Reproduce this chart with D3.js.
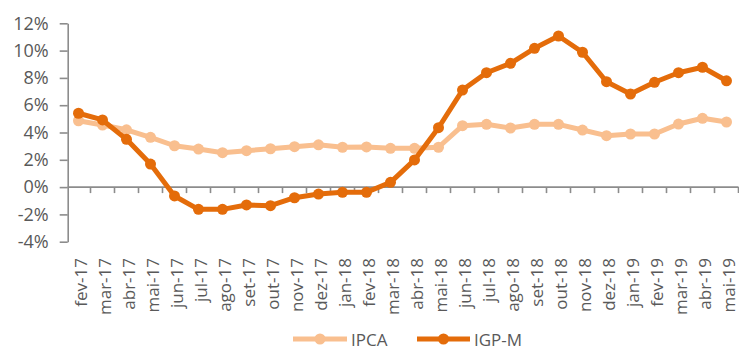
<!DOCTYPE html>
<html>
<head>
<meta charset="utf-8">
<script src="https://cdn.jsdelivr.net/npm/d3@7"></script>
<style>
  html, body { margin: 0; padding: 0; background: #fff; }
  svg { display: block; }
  text { font-family: "Open Sans", "DejaVu Sans", sans-serif; fill: #595959; }
</style>
</head>
<body>
<svg id="chart" width="739" height="349"></svg>
<script>
// Monthly labels (12-month inflation, Feb 2017 – May 2019)
const months = ["fev-17","mar-17","abr-17","mai-17","jun-17","jul-17","ago-17","set-17","out-17","nov-17","dez-17",
  "jan-18","fev-18","mar-18","abr-18","mai-18","jun-18","jul-18","ago-18","set-18","out-18","nov-18","dez-18",
  "jan-19","fev-19","mar-19","abr-19","mai-19"];

// IPCA, accumulated 12 months (%)
const ipca = [4.86,4.55,4.2,3.65,3.03,2.79,2.52,2.67,2.81,2.96,3.1,
  2.92,2.94,2.84,2.84,2.92,4.5,4.6,4.33,4.6,4.6,4.18,3.77,
  3.89,3.89,4.62,5.04,4.77];

// IGP-M, accumulated 12 months (%)
const igpm = [5.41,4.92,3.5,1.69,-0.65,-1.63,-1.63,-1.31,-1.36,-0.78,-0.51,
  -0.38,-0.38,0.35,1.99,4.35,7.11,8.38,9.07,10.17,11.07,9.88,7.72,
  6.82,7.68,8.38,8.78,7.79];

const yTicks = [-4,-2,0,2,4,6,8,10,12];

const series = [
  { name: "IPCA", values: ipca, color: "#F9BF8F" },
  { name: "IGP-M", values: igpm, color: "#E46C0A" }
];

const svg = d3.select("#chart");
const axisColor = "#8C8C8C";

const x = d3.scaleBand().domain(months).range([66.5, 738.5]);
const y = d3.scaleLinear().domain([-4, 12]).range([241.7, 23.3]);
const cx = m => x(m) + x.bandwidth() / 2;

// Y axis
const yAxis = svg.append("g")
  .attr("transform", "translate(67.7,0)")
  .call(d3.axisLeft(y).tickValues(yTicks).tickFormat(d => d + "%").tickSize(8).tickSizeOuter(0).tickPadding(11));
yAxis.select(".domain").attr("stroke", axisColor).attr("stroke-width", 1.6);
yAxis.selectAll(".tick line").attr("stroke", axisColor).attr("stroke-width", 1.6);
yAxis.selectAll(".tick text")
  .attr("fill", "#595959")
  .style("font-size", "18px")
  .style("font-family", "'Open Sans', sans-serif");

// Horizontal axis along zero with ticks at category boundaries
const xAxis = svg.append("g");
xAxis.append("line")
  .attr("x1", 67.7).attr("x2", x.range()[1])
  .attr("y1", y(0)).attr("y2", y(0))
  .attr("stroke", axisColor).attr("stroke-width", 1.6);
xAxis.selectAll("line.tk")
  .data(months.slice(1).concat([null]))
  .enter().append("line")
  .attr("class", "tk")
  .attr("x1", (d, i) => x(months[0]) + (i + 1) * x.step())
  .attr("x2", (d, i) => x(months[0]) + (i + 1) * x.step())
  .attr("y1", y(0)).attr("y2", y(0) + 6)
  .attr("stroke", axisColor).attr("stroke-width", 1.6);

// Category labels, rotated, below the plot area
svg.append("g").selectAll("text")
  .data(months)
  .enter().append("text")
  .attr("transform", d => `translate(${cx(d) + 1.5},258) rotate(-90)`)
  .attr("text-anchor", "end")
  .attr("dominant-baseline", "central")
  .style("font-size", "17px")
  .text(d => d);

// Lines with markers
const line = d3.line()
  .x((d, i) => cx(months[i]))
  .y(d => y(d));

series.forEach(s => {
  const g = svg.append("g");
  g.append("path")
    .datum(s.values)
    .attr("d", line)
    .attr("fill", "none")
    .attr("stroke", s.color)
    .attr("stroke-width", 5)
    .attr("stroke-linejoin", "round");
  g.selectAll("circle")
    .data(s.values)
    .enter().append("circle")
    .attr("cx", (d, i) => cx(months[i]))
    .attr("cy", d => y(d))
    .attr("r", 5.5)
    .attr("fill", s.color);
});

// Legend
const legendItems = [
  { s: series[0], x0: 293, x1: 347, tx: 351 },
  { s: series[1], x0: 417, x1: 470, tx: 474 }
];
const ly = 339;
legendItems.forEach(it => {
  const g = svg.append("g");
  g.append("line")
    .attr("x1", it.x0).attr("x2", it.x1)
    .attr("y1", ly).attr("y2", ly)
    .attr("stroke", it.s.color).attr("stroke-width", 5);
  g.append("circle")
    .attr("cx", (it.x0 + it.x1) / 2).attr("cy", ly).attr("r", 5.5)
    .attr("fill", it.s.color);
  g.append("text")
    .attr("x", it.tx).attr("y", ly)
    .attr("dominant-baseline", "central")
    .style("font-size", "17px")
    .text(it.s.name);
});
</script>
</body>
</html>
